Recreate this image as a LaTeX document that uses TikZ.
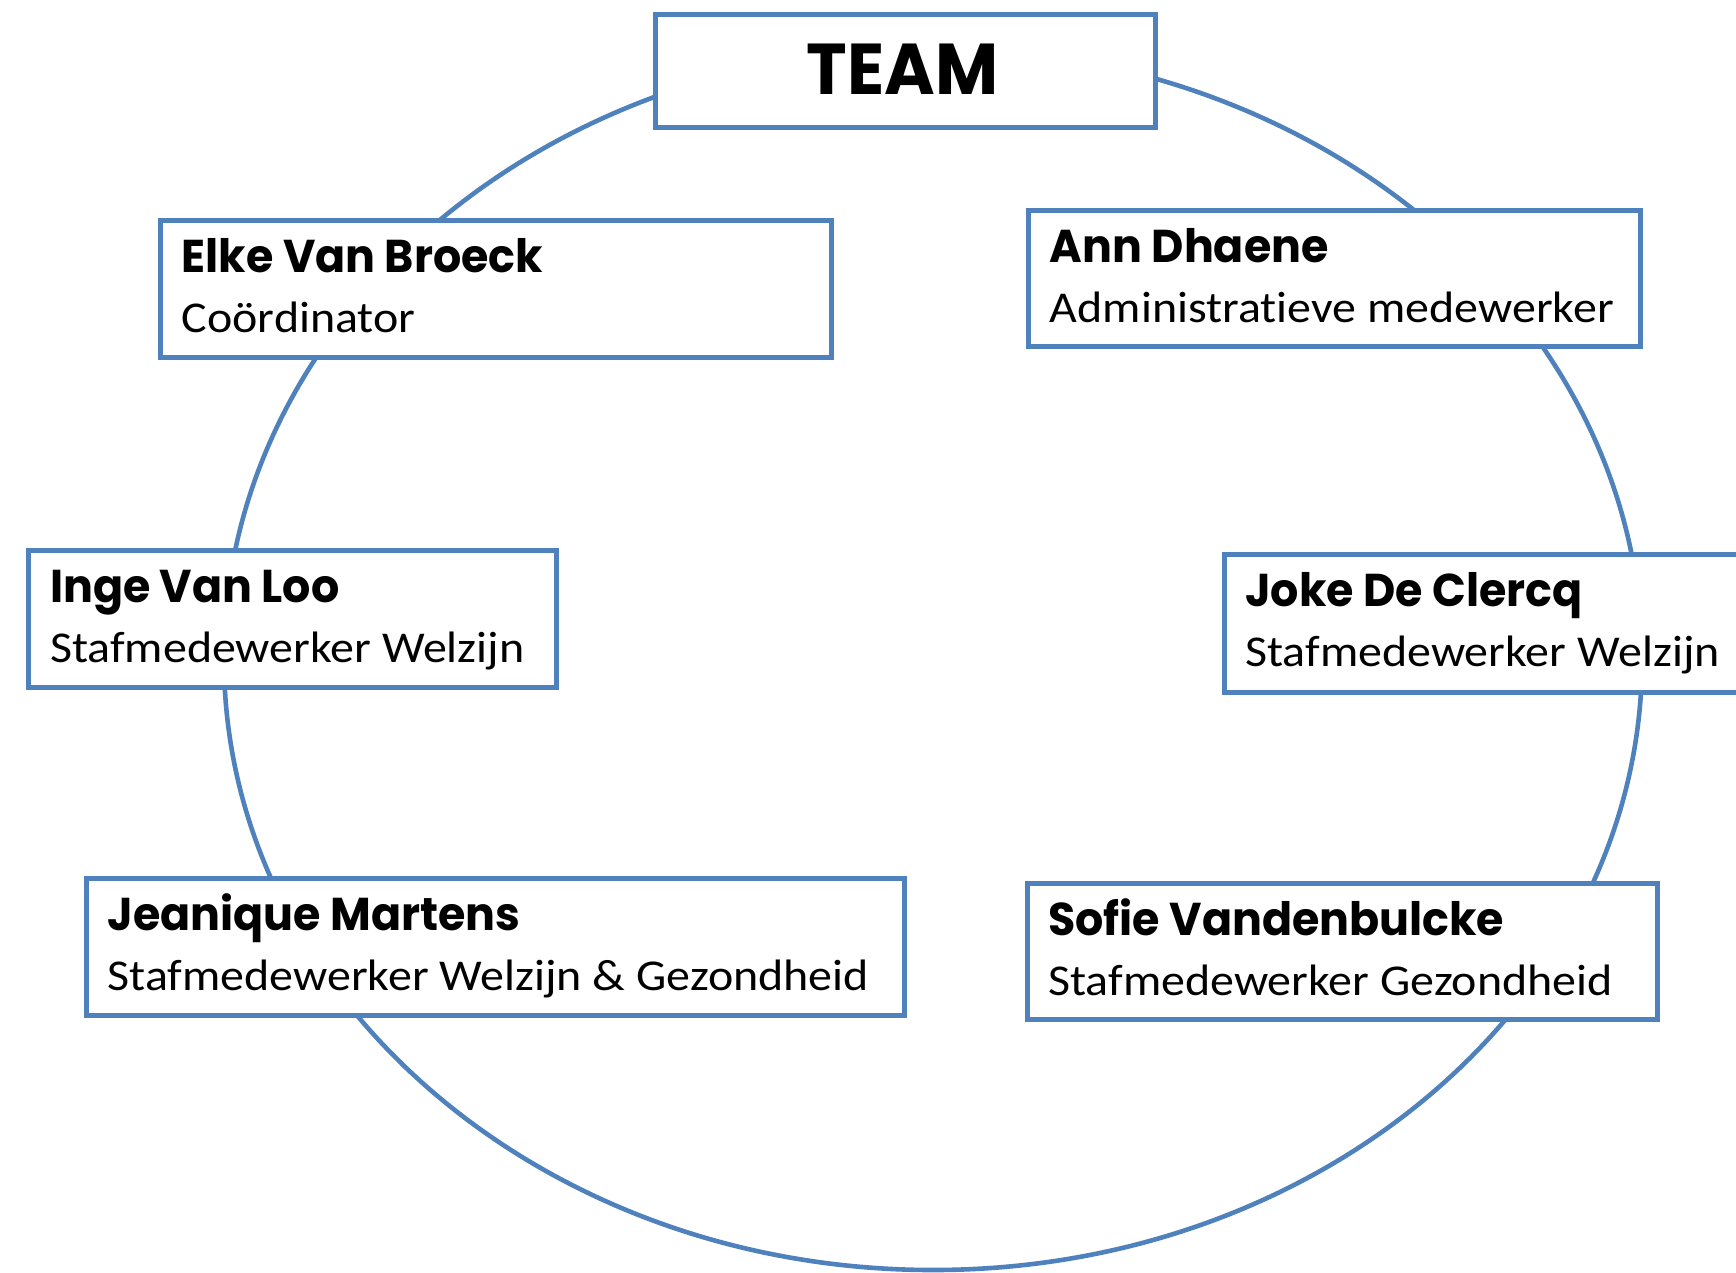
\documentclass[tikz,border=0pt]{standalone}
\usepackage{fontspec}
\setmainfont{Carlito}[Ligatures={NoCommon}, FakeStretch=1.09]
\newfontfamily\namefont{Poppins}[FakeStretch=0.965]
\newfontfamily\teamfont{Poppins}[FakeStretch=0.955]
\definecolor{ob}{HTML}{4F81BD}
\begin{document}
\begin{tikzpicture}[x=1pt,y=-1pt,
  box/.style={draw=ob, line width=5pt, fill=white, rectangle, inner sep=0pt, outer sep=0pt, anchor=north west},
  nm/.style={anchor=base west, inner sep=0pt, font=\namefont\bfseries\fontsize{46}{50}\selectfont},
  role/.style={anchor=base west, inner sep=0pt, font=\fontsize{44}{50}\selectfont},
  ring/.style={draw=ob, line width=4.6pt}]
\useasboundingbox (0,0) rectangle (1736,1272);
\draw[ring] (933,659) ellipse [x radius=709pt, y radius=611pt];
% boxes
\node[box, minimum width=500pt, minimum height=113pt] (team) at (655,14) {};
\node[box, minimum width=671pt, minimum height=137pt] (elke) at (160.6,220) {};
\node[box, minimum width=612pt, minimum height=136pt] (ann) at (1028.6,210) {};
\node[box, minimum width=528pt, minimum height=137pt] (inge) at (28.8,550) {};
\node[box, minimum width=540pt, minimum height=138pt] (joke) at (1224,554) {};
\node[box, minimum width=818pt, minimum height=137pt] (jean) at (86.4,878) {};
\node[box, minimum width=630pt, minimum height=136pt] (sofie) at (1027,883.5) {};
% texts
\node[anchor=base, inner sep=0pt, font=\teamfont\bfseries\fontsize{72}{76}\selectfont] (teamt) at (902.5,94) {TEAM};
\foreach \b/\n/\r in {elke/Elke Van Broeck/Coördinator,
                      ann/Ann Dhaene/Administratieve medewerker,
                      inge/Inge Van Loo/Stafmedewerker Welzijn,
                      joke/Joke De Clercq/Stafmedewerker Welzijn,
                      jean/Jeanique Martens/Stafmedewerker Welzijn \& Gezondheid,
                      sofie/Sofie Vandenbulcke/Stafmedewerker Gezondheid}{
  \node[nm] (\b-n) at ([shift={(21pt,-52pt)}]\b.north west) {\n};
  \node[role] (\b-r) at ([shift={(21pt,-112pt)}]\b.north west) {\r};
}
\end{tikzpicture}
\end{document}
